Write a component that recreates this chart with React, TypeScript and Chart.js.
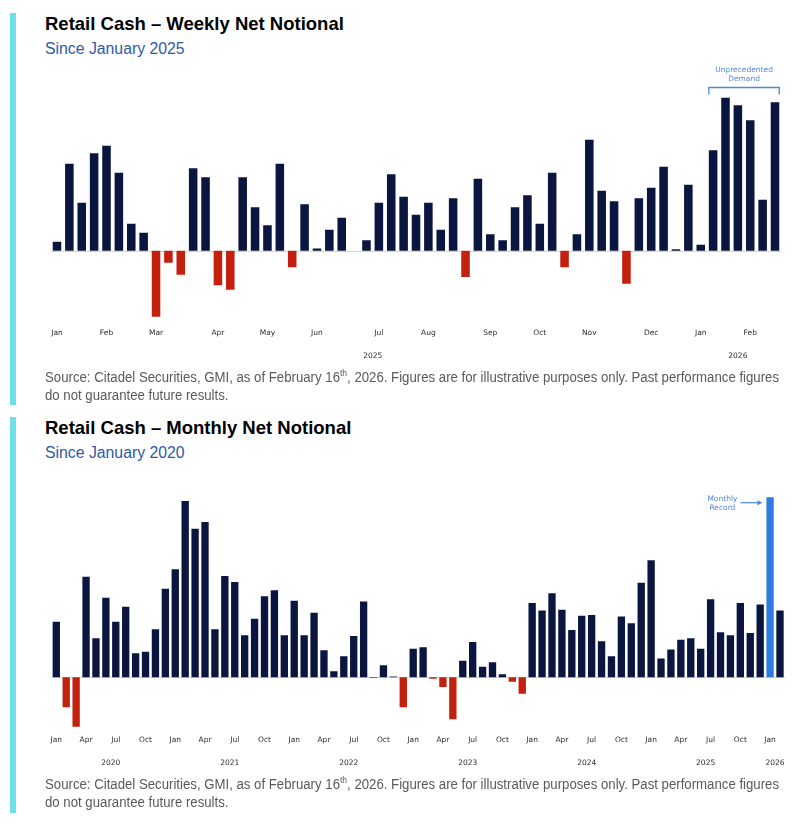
import React, { useEffect, useRef } from "react";
import { Chart, registerables } from "chart.js";

Chart.register(...registerables);

// ---------- Weekly data (week ending, 2025-01-03 .. 2026-02-13) ----------
const weeklyCategories: string[] = [
  "2025-01-03", "2025-01-10", "2025-01-17", "2025-01-24", "2025-01-31",
  "2025-02-07", "2025-02-14", "2025-02-21", "2025-02-28",
  "2025-03-07", "2025-03-14", "2025-03-21", "2025-03-28",
  "2025-04-04", "2025-04-11", "2025-04-18", "2025-04-25",
  "2025-05-02", "2025-05-09", "2025-05-16", "2025-05-23", "2025-05-30",
  "2025-06-06", "2025-06-13", "2025-06-20", "2025-06-27",
  "2025-07-04", "2025-07-11", "2025-07-18", "2025-07-25",
  "2025-08-01", "2025-08-08", "2025-08-15", "2025-08-22", "2025-08-29",
  "2025-09-05", "2025-09-12", "2025-09-19", "2025-09-26",
  "2025-10-03", "2025-10-10", "2025-10-17", "2025-10-24", "2025-10-31",
  "2025-11-07", "2025-11-14", "2025-11-21", "2025-11-28",
  "2025-12-05", "2025-12-12", "2025-12-19", "2025-12-26",
  "2026-01-02", "2026-01-09", "2026-01-16", "2026-01-23", "2026-01-30",
  "2026-02-06", "2026-02-13",
];

const weeklyValues: number[] = [
  0.6, 5.8, 3.2, 6.5, 7.0, 5.2, 1.8, 1.2, -4.4, -0.8,
  -1.6, 5.5, 4.9, -2.3, -2.6, 4.9, 2.9, 1.7, 5.8, -1.1,
  3.1, 0.15, 1.4, 2.2, 0, 0.7, 3.2, 5.1, 3.6, 2.4,
  3.2, 1.4, 3.5, -1.75, 4.8, 1.1, 0.7, 2.9, 3.7, 1.8,
  5.2, -1.1, 1.1, 7.4, 4.0, 3.3, -2.2, 3.5, 4.2, 5.6,
  0.1, 4.4, 0.4, 6.7, 10.2, 9.7, 8.7, 3.4, 9.9,
];

const weeklyTickIndex: number[] = [0, 4, 8, 13, 17, 21, 26, 30, 35, 39, 43, 48, 52, 56];
const weeklyTickLabels: string[] = ["Jan", "Feb", "Mar", "Apr", "May", "Jun", "Jul", "Aug", "Sep", "Oct", "Nov", "Dec", "Jan", "Feb"];
const weeklyYearLabels: string[] = ["2025", "2026"];
const weeklyYearFirst: number[] = [0, 52];
const weeklyYearLast: number[] = [51, 58];
const weeklyBracketFirst = 53;
const weeklyBracketLast = 58;
const weeklyNote: string[] = ["Unprecedented", "Demand"];

// ---------- Monthly data (2020-01 .. 2026-02) ----------
const monthlyCategories: string[] = [
  "2020-01", "2020-02", "2020-03", "2020-04", "2020-05", "2020-06", "2020-07", "2020-08", "2020-09", "2020-10", "2020-11", "2020-12",
  "2021-01", "2021-02", "2021-03", "2021-04", "2021-05", "2021-06", "2021-07", "2021-08", "2021-09", "2021-10", "2021-11", "2021-12",
  "2022-01", "2022-02", "2022-03", "2022-04", "2022-05", "2022-06", "2022-07", "2022-08", "2022-09", "2022-10", "2022-11", "2022-12",
  "2023-01", "2023-02", "2023-03", "2023-04", "2023-05", "2023-06", "2023-07", "2023-08", "2023-09", "2023-10", "2023-11", "2023-12",
  "2024-01", "2024-02", "2024-03", "2024-04", "2024-05", "2024-06", "2024-07", "2024-08", "2024-09", "2024-10", "2024-11", "2024-12",
  "2025-01", "2025-02", "2025-03", "2025-04", "2025-05", "2025-06", "2025-07", "2025-08", "2025-09", "2025-10", "2025-11", "2025-12",
  "2026-01", "2026-02",
];

const monthlyValues: number[] = [
  3.7, -2.0, -3.3, 6.7, 2.6, 5.3, 3.7, 4.7, 1.6, 1.7, 3.2, 5.9,
  7.2, 11.75, 9.9, 10.35, 3.2, 6.75, 6.35, 2.8, 3.9, 5.4, 5.8, 2.8,
  5.1, 2.8, 4.3, 1.8, 0.4, 1.4, 2.75, 5.05, -0.05, 0.8, 0.05, -2.0,
  1.9, 2.0, -0.1, -0.65, -2.8, 1.1, 2.35, 0.7, 1.0, 0.2, -0.3, -1.1,
  4.95, 4.45, 5.6, 4.5, 3.15, 4.1, 4.15, 2.4, 1.4, 4.05, 3.6, 6.3,
  7.8, 1.25, 1.85, 2.5, 2.6, 1.9, 5.2, 3.0, 2.8, 4.95, 2.95, 4.85,
  12.0, 4.45,
];

const monthlyTickIndex: number[] = [
  0, 3, 6, 9, 12, 15, 18, 21, 24, 27, 30, 33, 36, 39, 42, 45, 48, 51, 54, 57, 60, 63, 66, 69, 72,
];
const monthlyTickLabels: string[] = [
  "Jan", "Apr", "Jul", "Oct", "Jan", "Apr", "Jul", "Oct", "Jan", "Apr", "Jul", "Oct",
  "Jan", "Apr", "Jul", "Oct", "Jan", "Apr", "Jul", "Oct", "Jan", "Apr", "Jul", "Oct", "Jan",
];
const monthlyYearLabels: string[] = ["2020", "2021", "2022", "2023", "2024", "2025", "2026"];
const monthlyYearFirst: number[] = [0, 12, 24, 36, 48, 60, 72];
const monthlyYearLast: number[] = [11, 23, 35, 47, 59, 71, 73];
const monthlyRecordIndex = 72;
const monthlyNote: string[] = ["Monthly", "Record"];

// ---------- Styles ----------
const NAVY = "#0b1640";
const RED = "#c4200e";
const RECORD_BLUE = "#2f7be0";
const NOTE_BLUE = "#4f86e0";
const CYAN = "#6fe0e6";
const TICK_FONT = '7.5px "DejaVu Sans", sans-serif';

type PanelProps = {
  categories: string[];
  values: number[];
  tickIndex: number[];
  tickLabels: string[];
  yearLabels: string[];
  yearFirst: number[];
  yearLast: number[];
  yMin: number;
  yMax: number;
  barFrac: number;
  top: number;
  height: number;
  pad: { left: number; right: number; top: number; bottom: number };
  tickDy: number;
  yearDy: number;
  highlight?: number;
  annotate: (chart: any) => void;
};

function BarPanel(p: PanelProps) {
  const ref = useRef<HTMLCanvasElement | null>(null);
  useEffect(() => {
    if (!ref.current) return;
    const colors = p.values.map((v, i) =>
      i === p.highlight ? RECORD_BLUE : v < 0 ? RED : NAVY
    );
    const decor = {
      id: "decor",
      beforeDatasetsDraw(chart: any) {
        const { ctx, chartArea, scales } = chart;
        const y0 = Math.round(scales.y.getPixelForValue(0)) + 0.5;
        ctx.save();
        ctx.strokeStyle = "#cfd2dc";
        ctx.lineWidth = 1;
        ctx.beginPath();
        ctx.moveTo(chartArea.left, y0);
        ctx.lineTo(chartArea.right, y0);
        ctx.stroke();
        ctx.restore();
      },
      afterDraw(chart: any) {
        const { ctx, chartArea, scales } = chart;
        const x = scales.x;
        ctx.save();
        ctx.font = TICK_FONT;
        ctx.fillStyle = "#2b2b2b";
        ctx.textAlign = "center";
        ctx.textBaseline = "middle";
        p.tickIndex.forEach((idx, k) => {
          ctx.fillText(p.tickLabels[k], x.getPixelForValue(idx), chartArea.bottom + p.tickDy);
        });
        p.yearLabels.forEach((lab, k) => {
          const cx = (x.getPixelForValue(p.yearFirst[k]) + x.getPixelForValue(p.yearLast[k])) / 2;
          ctx.fillText(lab, cx, chartArea.bottom + p.yearDy);
        });
        ctx.restore();
        p.annotate(chart);
      },
    };
    const chart = new Chart(ref.current, {
      type: "bar",
      data: {
        labels: p.categories,
        datasets: [
          {
            data: p.values,
            backgroundColor: colors,
            borderWidth: 0,
            categoryPercentage: 1,
            barPercentage: p.barFrac,
          },
        ],
      },
      options: {
        animation: false,
        responsive: false,
        maintainAspectRatio: false,
        layout: { padding: p.pad },
        plugins: {
          legend: { display: false },
          tooltip: { enabled: false },
          title: { display: false },
        },
        scales: {
          x: { display: false },
          y: { display: false, min: p.yMin, max: p.yMax },
        },
      },
      plugins: [decor],
    });
    return () => chart.destroy();
  }, []);
  return (
    <canvas
      ref={ref}
      width={797}
      height={p.height}
      style={{ position: "absolute", left: 0, top: p.top, width: 797, height: p.height }}
    />
  );
}

function drawWeeklyNote(chart: any) {
  const { ctx } = chart;
  const meta = chart.getDatasetMeta(0);
  const a = meta.data[weeklyBracketFirst];
  const b = meta.data[weeklyBracketLast];
  const x1 = a.x - a.width / 2;
  const x2 = b.x + b.width / 2;
  const cx = (x1 + x2) / 2;
  ctx.save();
  ctx.font = TICK_FONT;
  ctx.fillStyle = NOTE_BLUE;
  ctx.textAlign = "center";
  ctx.textBaseline = "middle";
  ctx.fillText(weeklyNote[0], cx, 10);
  ctx.fillText(weeklyNote[1], cx, 19);
  ctx.strokeStyle = NOTE_BLUE;
  ctx.lineWidth = 1.3;
  ctx.beginPath();
  ctx.moveTo(x1, 34.5);
  ctx.lineTo(x1, 27.5);
  ctx.lineTo(x2, 27.5);
  ctx.lineTo(x2, 34.5);
  ctx.stroke();
  ctx.restore();
}

function drawMonthlyNote(chart: any) {
  const { ctx } = chart;
  const meta = chart.getDatasetMeta(0);
  const bar = meta.data[monthlyRecordIndex];
  const left = bar.x - bar.width / 2;
  const arrowEnd = left - 4;
  const arrowStart = arrowEnd - 22;
  const textX = arrowStart - 18;
  const yArrow = 32.7;
  ctx.save();
  ctx.font = TICK_FONT;
  ctx.fillStyle = NOTE_BLUE;
  ctx.textAlign = "center";
  ctx.textBaseline = "middle";
  ctx.fillText(monthlyNote[0], textX, 29);
  ctx.fillText(monthlyNote[1], textX, 38);
  ctx.strokeStyle = NOTE_BLUE;
  ctx.lineWidth = 1.2;
  ctx.beginPath();
  ctx.moveTo(arrowStart, yArrow);
  ctx.lineTo(arrowEnd - 3, yArrow);
  ctx.stroke();
  ctx.beginPath();
  ctx.moveTo(arrowEnd, yArrow);
  ctx.lineTo(arrowEnd - 5, yArrow - 2.5);
  ctx.lineTo(arrowEnd - 5, yArrow + 2.5);
  ctx.closePath();
  ctx.fill();
  ctx.restore();
}

const titleStyle: React.CSSProperties = {
  position: "absolute",
  left: 45,
  margin: 0,
  font: 'bold 18.5px "Liberation Sans", Arial, sans-serif',
  lineHeight: "20px",
  color: "#000",
  whiteSpace: "nowrap",
};
const subStyle: React.CSSProperties = {
  position: "absolute",
  left: 45,
  margin: 0,
  font: '15.8px "Liberation Sans", Arial, sans-serif',
  lineHeight: "18px",
  color: "#2e5aa8",
  whiteSpace: "nowrap",
};
const sourceStyle: React.CSSProperties = {
  position: "absolute",
  left: 45,
  margin: 0,
  font: '14px "Liberation Sans", Arial, sans-serif',
  lineHeight: "18px",
  color: "#5a5a5a",
  whiteSpace: "nowrap",
  transform: "scaleX(0.943)",
  transformOrigin: "0 0",
};

function Source({ top }: { top: number }) {
  return (
    <div style={{ ...sourceStyle, top }}>
      Source: Citadel Securities, GMI, as of February 16
      <sup style={{ fontSize: "9px", lineHeight: 0 }}>th</sup>, 2026. Figures are for illustrative purposes only. Past performance figures
      <br />
      do not guarantee future results.
    </div>
  );
}

export default function App() {
  return (
    <div
      style={{
        position: "absolute",
        left: 0,
        top: 0,
        width: 797,
        height: 824,
        background: "#fff",
        overflow: "hidden",
      }}
    >
      {/* Weekly panel */}
      <div style={{ position: "absolute", left: 10, top: 13, width: 5.5, height: 392, background: CYAN }} />
      <div style={{ ...titleStyle, top: 13.6 }}>Retail Cash – Weekly Net Notional</div>
      <div style={{ ...subStyle, top: 39.6 }}>Since January 2025</div>
      <BarPanel
        categories={weeklyCategories}
        values={weeklyValues}
        tickIndex={weeklyTickIndex}
        tickLabels={weeklyTickLabels}
        yearLabels={weeklyYearLabels}
        yearFirst={weeklyYearFirst}
        yearLast={weeklyYearLast}
        yMin={-4.62}
        yMax={10.713}
        barFrac={0.69}
        top={60}
        height={310}
        pad={{ left: 50.8, right: 15.8, top: 30, bottom: 50 }}
        tickDy={13}
        yearDy={35.7}
        annotate={drawWeeklyNote}
      />
      <Source top={368} />

      {/* Monthly panel */}
      <div style={{ position: "absolute", left: 10, top: 417, width: 5.5, height: 396, background: CYAN }} />
      <div style={{ ...titleStyle, top: 417.6 }}>Retail Cash – Monthly Net Notional</div>
      <div style={{ ...subStyle, top: 443.6 }}>Since January 2020</div>
      <BarPanel
        categories={monthlyCategories}
        values={monthlyValues}
        tickIndex={monthlyTickIndex}
        tickLabels={monthlyTickLabels}
        yearLabels={monthlyYearLabels}
        yearFirst={monthlyYearFirst}
        yearLast={monthlyYearLast}
        yMin={-3.513}
        yMax={12.487}
        barFrac={0.74}
        top={470}
        height={310}
        pad={{ left: 51.35, right: 12.05, top: 20, bottom: 50 }}
        tickDy={10}
        yearDy={33.3}
        highlight={monthlyRecordIndex}
        annotate={drawMonthlyNote}
      />
      <Source top={774.5} />
    </div>
  );
}
